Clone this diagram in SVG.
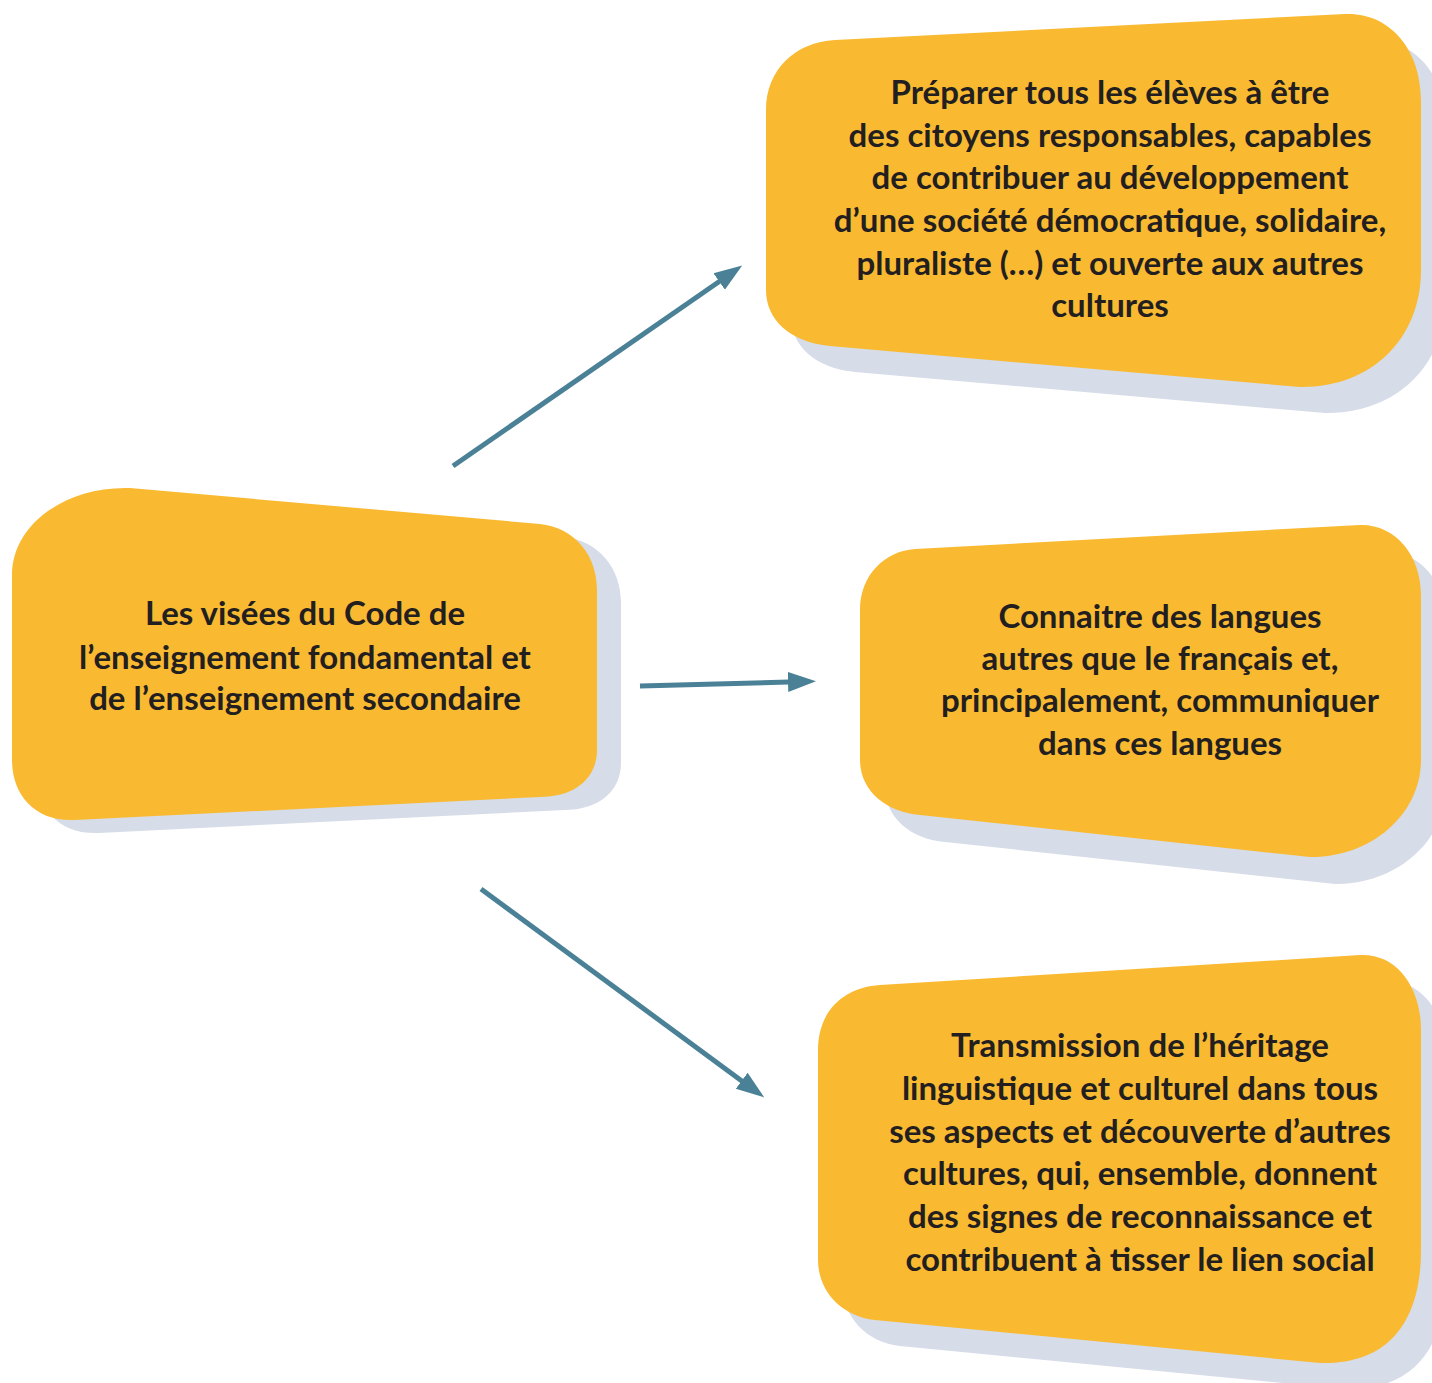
<svg xmlns="http://www.w3.org/2000/svg" width="1432" height="1383" viewBox="0 0 1432 1383">
<defs>
<style>
.box{fill:#f9ba32}
.shadow{fill:#d6dce8}
.txt{font-family:Lato,"Open Sans","Liberation Sans",sans-serif;font-weight:bold;font-size:33px;fill:#231f20;text-anchor:middle}
.conn{stroke:#4b8196;stroke-width:5;fill:none;marker-end:url(#ah)}
</style>
<marker id="ah" markerUnits="userSpaceOnUse" markerWidth="30" markerHeight="22" viewBox="0 -11 30 22" refX="1" refY="0" orient="auto">
<path d="M0,-10 L28,0 L0,10 z" fill="#4b8196"/>
</marker>
</defs>
<rect width="1432" height="1383" fill="#ffffff"/>
<g id="node-center">
<path class="shadow" transform="translate(24,13)" d="M130 488 L540 524 C575 528 597 555 597 590 L597 750 C597 778 575 797 540 797 L75 820 C35 822 12 795 12 760 L12 575 C12 525 65 486 130 488 Z"/>
<path class="box" d="M130 488 L540 524 C575 528 597 555 597 590 L597 750 C597 778 575 797 540 797 L75 820 C35 822 12 795 12 760 L12 575 C12 525 65 486 130 488 Z"/>
<text class="txt"><tspan x="305" y="625">Les visées du Code de</tspan><tspan x="305" y="669">l’enseignement fondamental et</tspan><tspan x="305" y="710">de l’enseignement secondaire</tspan></text>
</g>
<g id="node-citoyens">
<path class="shadow" transform="translate(25,26)" d="M835 40 L1345 14 C1390 12 1421 50 1421 100 L1421 270 C1421 340 1370 388 1300 387 L830 346 C790 342 766 320 766 290 L766 110 C766 70 795 42 835 40 Z"/>
<path class="box" d="M835 40 L1345 14 C1390 12 1421 50 1421 100 L1421 270 C1421 340 1370 388 1300 387 L830 346 C790 342 766 320 766 290 L766 110 C766 70 795 42 835 40 Z"/>
<text class="txt"><tspan x="1110" y="104">Préparer tous les élèves à être</tspan><tspan x="1110" y="147">des citoyens responsables, capables</tspan><tspan x="1110" y="189">de contribuer au développement</tspan><tspan x="1110" y="232">d’une société démocratique, solidaire,</tspan><tspan x="1110" y="275">pluraliste (…) et ouverte aux autres</tspan><tspan x="1110" y="317">cultures</tspan></text>
</g>
<g id="node-langues">
<path class="shadow" transform="translate(25,27)" d="M915 549 L1360 525 C1395 524 1421 555 1421 595 L1421 760 C1421 815 1370 858 1310 857 L920 815 C885 812 860 790 860 760 L860 610 C860 575 885 551 915 549 Z"/>
<path class="box" d="M915 549 L1360 525 C1395 524 1421 555 1421 595 L1421 760 C1421 815 1370 858 1310 857 L920 815 C885 812 860 790 860 760 L860 610 C860 575 885 551 915 549 Z"/>
<text class="txt"><tspan x="1160" y="628">Connaitre des langues</tspan><tspan x="1160" y="670">autres que le français et,</tspan><tspan x="1160" y="712">principalement, communiquer</tspan><tspan x="1160" y="755">dans ces langues</tspan></text>
</g>
<g id="node-heritage">
<path class="shadow" transform="translate(25,26)" d="M880 985 L1360 955 C1395 953 1421 985 1421 1030 L1421 1250 C1421 1320 1390 1365 1320 1363 L875 1320 C840 1316 818 1290 818 1260 L818 1050 C818 1010 845 987 880 985 Z"/>
<path class="box" d="M880 985 L1360 955 C1395 953 1421 985 1421 1030 L1421 1250 C1421 1320 1390 1365 1320 1363 L875 1320 C840 1316 818 1290 818 1260 L818 1050 C818 1010 845 987 880 985 Z"/>
<text class="txt"><tspan x="1140" y="1057">Transmission de l’héritage</tspan><tspan x="1140" y="1100">linguistique et culturel dans tous</tspan><tspan x="1140" y="1143">ses aspects et découverte d’autres</tspan><tspan x="1140" y="1185">cultures, qui, ensemble, donnent</tspan><tspan x="1140" y="1228">des signes de reconnaissance et</tspan><tspan x="1140" y="1271">contribuent à tisser le lien social</tspan></text>
</g>
<g id="connectors">
<line class="conn" x1="453" y1="466" x2="720" y2="281"/>
<line class="conn" x1="640" y1="686" x2="789" y2="682"/>
<line class="conn" x1="481" y1="889" x2="742.5" y2="1081.4"/>
</g>
</svg>
